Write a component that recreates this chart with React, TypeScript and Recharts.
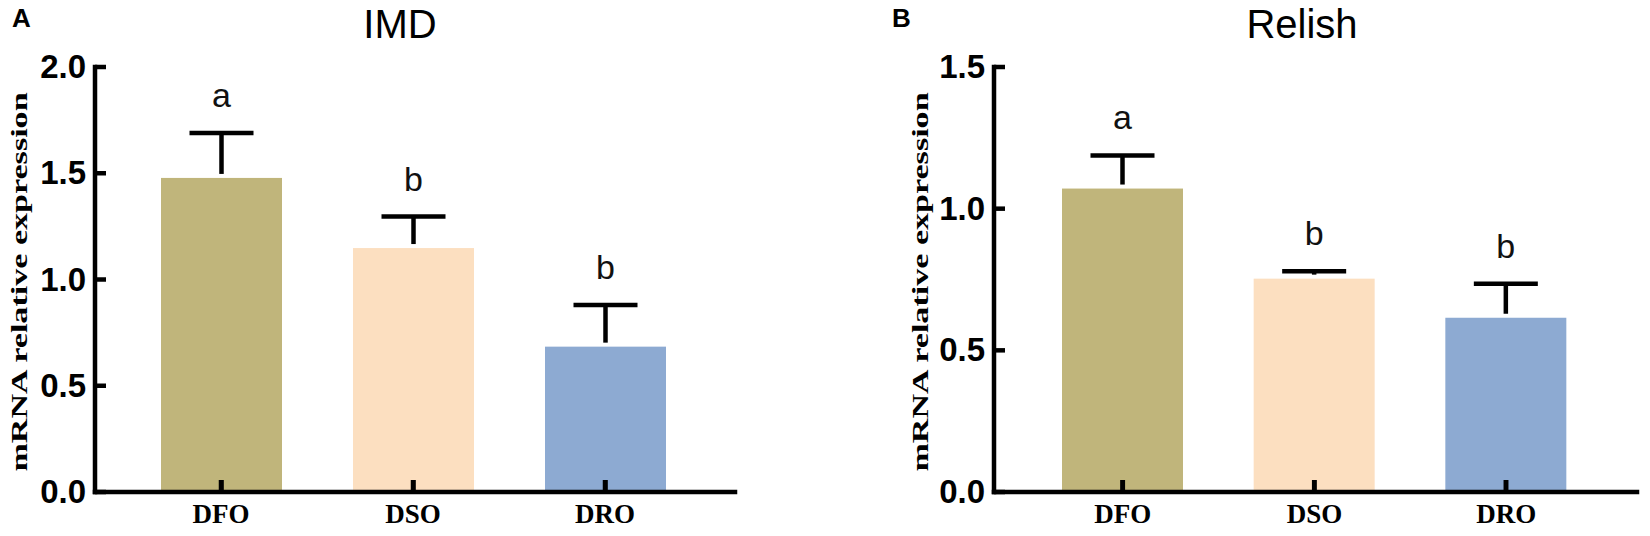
import React from "react";
import { BarChart, Bar, XAxis, YAxis, Cell } from "recharts";

const categories = ["DFO", "DSO", "DRO"];
const imdMeans = [1.478, 1.148, 0.684];
const imdErrors = [0.211, 0.148, 0.196];
const imdLetters = ["a", "b", "b"];
const relishMeans = [1.071, 0.753, 0.615];
const relishErrors = [0.117, 0.026, 0.12];
const relishLetters = ["a", "b", "b"];
const imdTicks = [0, 0.5, 1.0, 1.5, 2.0];
const relishTicks = [0, 0.5, 1.0, 1.5];

const COLORS = ["#C0B57B", "#FCDFC0", "#8DAAD2"];
const SANS = "'Liberation Sans', Arial, sans-serif";
const SERIF = "'Liberation Serif', 'Times New Roman', serif";
const STROKE = 4.5;

function buildRows(means: number[], errors: number[], letters: string[]) {
  return categories.map((c, i) => ({ name: c, mean: means[i], err: errors[i], letter: letters[i] }));
}

const imdRows = buildRows(imdMeans, imdErrors, imdLetters);
const relishRows = buildRows(relishMeans, relishErrors, relishLetters);

const MeanBar = (props: any) => {
  const { x, y, width, height, fill } = props;
  const cx = x + width / 2;
  const base = y + height;
  return (
    <g>
      <rect x={x} y={y} width={width} height={height} fill={fill} />
      <line x1={cx} x2={cx} y1={base} y2={base - 12} stroke="#000" strokeWidth={STROKE} />
    </g>
  );
};

const Whisker = (props: any) => {
  const { x, y, width, height } = props;
  const entry = props.payload ?? props;
  const cx = x + width / 2;
  const base = y + height;
  return (
    <g>
      <line x1={cx} x2={cx} y1={base - 4} y2={y} stroke="#000" strokeWidth={STROKE} />
      <line x1={cx - 32} x2={cx + 32} y1={y} y2={y} stroke="#000" strokeWidth={STROKE} />
      <text x={cx} y={y - 26} textAnchor="middle" fontFamily={SANS} fontSize={34} fill="#111">
        {entry.letter}
      </text>
    </g>
  );
};

const YTick = (props: any) => {
  const { x, y, payload } = props;
  return (
    <g>
      <line x1={x + 9} x2={x + 20} y1={y} y2={y} stroke="#000" strokeWidth={STROKE} />
      <text x={x} y={y + 11} textAnchor="end" fontFamily={SANS} fontWeight="bold" fontSize={33} fill="#000">
        {Number(payload.value).toFixed(1)}
      </text>
    </g>
  );
};

const XTick = (props: any) => {
  const { x, y, payload } = props;
  return (
    <g>
      <line x1={x} x2={x} y1={y} y2={y - 12} stroke="#000" strokeWidth={STROKE} />
      <text x={x} y={y + 31} textAnchor="middle" fontFamily={SERIF} fontWeight="bold" fontSize={27} fill="#000">
        {payload.value}
      </text>
    </g>
  );
};

const axisLineStyle = { stroke: "#000", strokeWidth: STROKE, strokeLinecap: "square" as const };

function Panel(props: {
  rows: any[];
  ticks: number[];
  max: number;
  width: number;
  yAxisWidth: number;
  right: number;
  padL: number;
  padR: number;
}) {
  const { rows, ticks, max, width, yAxisWidth, right, padL, padR } = props;
  return (
    <BarChart width={width} height={536} data={rows} margin={{ top: 67, right, bottom: 0, left: 0 }}>
      <XAxis
        dataKey="name"
        height={44}
        axisLine={axisLineStyle}
        tickLine={false}
        tickSize={0}
        tickMargin={0}
        tick={<XTick />}
        padding={{ left: padL, right: padR }}
        interval={0}
      />
      <YAxis
        width={yAxisWidth}
        domain={[0, max]}
        ticks={ticks}
        axisLine={axisLineStyle}
        tickLine={false}
        tickSize={0}
        tickMargin={9}
        tick={<YTick />}
        interval={0}
        allowDataOverflow
      />
      <Bar dataKey="mean" stackId="s" barSize={121} isAnimationActive={false} shape={<MeanBar />}>
        {rows.map((r, i) => (
          <Cell key={r.name} fill={COLORS[i]} />
        ))}
      </Bar>
      <Bar dataKey="err" stackId="s" barSize={121} isAnimationActive={false} shape={<Whisker />} />
    </BarChart>
  );
}

export default function App() {
  return (
    <div style={{ position: "fixed", left: 0, top: 0, width: 1650, height: 536, background: "#fff", overflow: "hidden" }}>
      <div style={{ position: "absolute", left: 0, top: 0 }}>
        <Panel rows={imdRows} ticks={imdTicks} max={2} width={825} yAxisWidth={95} right={90} padL={30} padR={34} />
      </div>
      <div style={{ position: "absolute", left: 825, top: 0 }}>
        <Panel rows={relishRows} ticks={relishTicks} max={1.5} width={825} yAxisWidth={169} right={13} padL={33} padR={35} />
      </div>
      <svg width={1650} height={536} style={{ position: "absolute", left: 0, top: 0, pointerEvents: "none" }}>
        <text x={12} y={27} fontFamily={SANS} fontWeight="bold" fontSize={26} fill="#000">A</text>
        <text x={892} y={27} fontFamily={SANS} fontWeight="bold" fontSize={26} fill="#000">B</text>
        <text x={400} y={38} textAnchor="middle" fontFamily={SANS} fontSize={40} fill="#000">IMD</text>
        <text x={1302} y={38} textAnchor="middle" fontFamily={SANS} fontSize={40} fill="#000">Relish</text>
        <text
          transform="translate(19,282) rotate(-90) scale(1.42,1)"
          textAnchor="middle"
          dominantBaseline="central"
          fontFamily={SERIF}
          fontWeight="bold"
          fontSize={24}
          fill="#000"
        >
          mRNA relative expression
        </text>
        <text
          transform="translate(920,282) rotate(-90) scale(1.42,1)"
          textAnchor="middle"
          dominantBaseline="central"
          fontFamily={SERIF}
          fontWeight="bold"
          fontSize={24}
          fill="#000"
        >
          mRNA relative expression
        </text>
      </svg>
    </div>
  );
}
